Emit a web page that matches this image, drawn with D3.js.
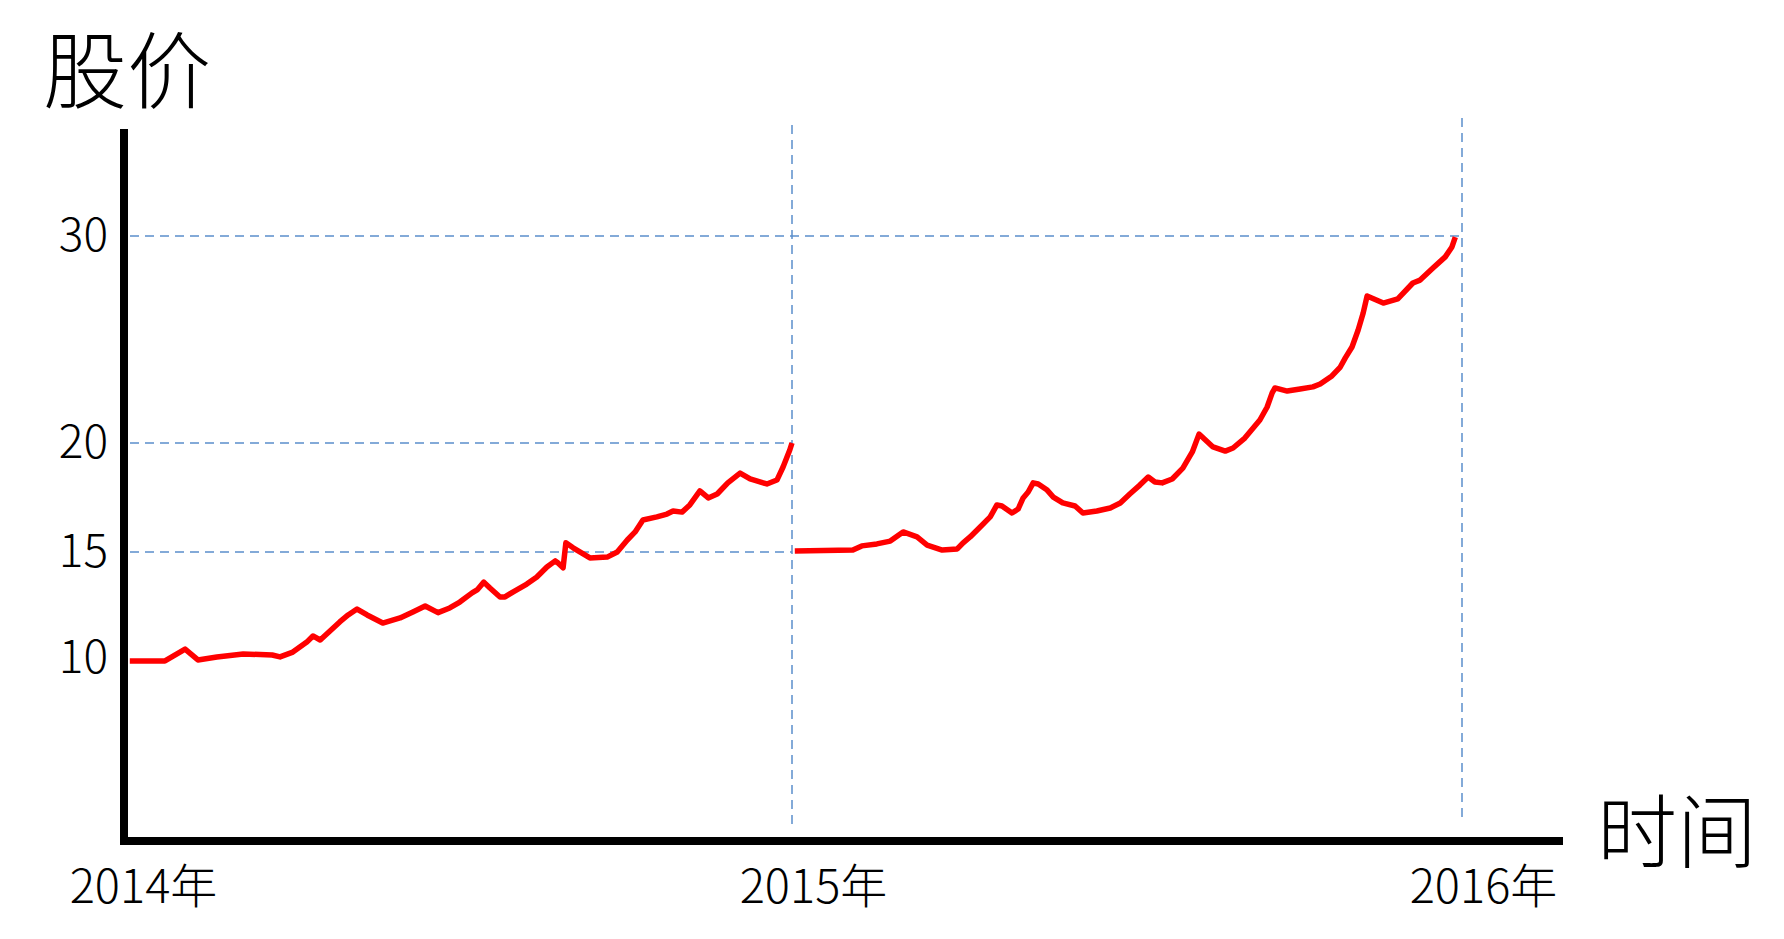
<!DOCTYPE html>
<html>
<head>
<meta charset="utf-8">
<script src="https://cdn.jsdelivr.net/npm/d3@7"></script>
<style>
  html, body { margin: 0; padding: 0; background: #ffffff; }
  svg { display: block; }
  text { font-family: "Noto Sans CJK SC", "Noto Sans", sans-serif; fill: #000; font-weight: 300; }
</style>
</head>
<body>
<svg id="chart" width="1784" height="939"></svg>
<script>
// ---- data (x in months since 2014-01, y = stock price) ----
const months2014 = [0.14, 0.77, 1.13, 1.36, 1.70, 2.17, 2.69, 2.83, 3.06, 3.31, 3.42, 3.55, 3.90, 4.05, 4.21, 4.39, 4.67, 4.98, 5.21, 5.43, 5.66, 5.87, 6.05, 6.27, 6.36, 6.48, 6.59, 6.77, 6.86, 7.00, 7.25, 7.43, 7.61, 7.76, 7.81, 7.90, 7.95, 8.08, 8.38, 8.69, 8.87, 9.05, 9.19, 9.33, 9.58, 9.76, 9.87, 10.03, 10.17, 10.35, 10.50, 10.66, 10.85, 11.07, 11.25, 11.55, 11.73, 11.84, 11.96, 12.0];
const prices2014 = [9.86, 9.86, 10.42, 9.91, 10.05, 10.19, 10.14, 10.05, 10.28, 10.75, 11.04, 10.85, 11.70, 12.03, 12.31, 12.03, 11.65, 11.89, 12.17, 12.45, 12.14, 12.36, 12.64, 13.07, 13.21, 13.58, 13.30, 12.88, 12.88, 13.11, 13.49, 13.82, 14.29, 14.58, 14.48, 14.25, 15.42, 15.19, 14.72, 14.76, 15.0, 15.55, 15.92, 16.47, 16.61, 16.74, 16.88, 16.83, 17.16, 17.80, 17.48, 17.66, 18.17, 18.62, 18.35, 18.12, 18.30, 18.90, 19.68, 20.0];

const months2015 = [12.05, 13.09, 13.25, 13.52, 13.76, 13.99, 14.24, 14.42, 14.69, 14.96, 15.06, 15.19, 15.37, 15.55, 15.67, 15.76, 15.94, 16.05, 16.14, 16.23, 16.32, 16.41, 16.57, 16.68, 16.85, 17.07, 17.21, 17.46, 17.70, 17.88, 18.05, 18.23, 18.38, 18.50, 18.63, 18.81, 19.00, 19.17, 19.29, 19.54, 19.76, 19.90, 20.11, 20.38, 20.51, 20.60, 20.65, 20.87, 21.10, 21.33, 21.46, 21.67, 21.82, 21.91, 22.03, 22.14, 22.23, 22.30, 22.59, 22.85, 23.12, 23.25, 23.48, 23.70, 23.82, 23.88];
const prices2015 = [15.05, 15.09, 15.28, 15.37, 15.50, 15.92, 15.69, 15.32, 15.09, 15.14, 15.41, 15.69, 16.15, 16.61, 17.16, 17.11, 16.79, 16.97, 17.48, 17.75, 18.17, 18.12, 17.84, 17.52, 17.25, 17.11, 16.79, 16.88, 17.02, 17.25, 17.66, 18.07, 18.44, 18.21, 18.17, 18.35, 18.85, 19.59, 20.43, 19.82, 19.63, 19.77, 20.24, 21.11, 21.74, 22.42, 22.66, 22.51, 22.61, 22.71, 22.85, 23.24, 23.67, 24.11, 24.64, 25.46, 26.28, 27.10, 26.76, 26.96, 27.73, 27.87, 28.45, 28.99, 29.47, 29.95];

const yTicks = [10, 15, 20, 30];
const xTicks = [0, 12, 24];
const xTickLabels = ["2014年", "2015年", "2016年"];
const hGuides = [30, 20, 15];
const hGuideEnds = [24, 12, 12];
const vGuides = [12, 24];
const yTitle = "股价";
const xTitle = "时间";

// ---- drawing ----
const svg = d3.select("#chart");
svg.append("rect").attr("width", 1784).attr("height", 939).attr("fill", "#fff");

const x = d3.scaleLinear().domain([0, 24]).range([122, 1462]);
const y = d3.scaleLinear().domain([10, 15, 20, 30]).range([658, 552, 443, 236]);

const axisX0 = 124, axisYBottom = 841, axisTop = 129, axisRight = 1563;
const guideColor = "#5B8FCB";

// horizontal guides
svg.append("g").selectAll("line").data(hGuides).join("line")
  .attr("x1", 130)
  .attr("x2", (d, i) => x(hGuideEnds[i]))
  .attr("y1", d => y(d)).attr("y2", d => y(d))
  .attr("stroke", guideColor).attr("stroke-width", 1.5)
  .attr("stroke-dasharray", "9,6");

// vertical guides
svg.append("g").selectAll("line").data(vGuides).join("line")
  .attr("x1", d => x(d)).attr("x2", d => x(d))
  .attr("y1", (d, i) => i === 0 ? 125 : 118)
  .attr("y2", (d, i) => i === 0 ? 828 : 822)
  .attr("stroke", guideColor).attr("stroke-width", 1.5)
  .attr("stroke-dasharray", "9,6");

// lines
const line = d3.line().x(d => x(d[0])).y(d => y(d[1])).curve(d3.curveLinear);
const seg1 = months2014.map((m, i) => [m, prices2014[i]]);
const seg2 = months2015.map((m, i) => [m, prices2015[i]]);
[seg1, seg2].forEach(seg => {
  svg.append("path").datum(seg).attr("d", line)
    .attr("fill", "none").attr("stroke", "#ff0000")
    .attr("stroke-width", 5.5).attr("stroke-linejoin", "round").attr("stroke-linecap", "butt");
});

// axes (thick black)
svg.append("line").attr("x1", axisX0).attr("x2", axisX0).attr("y1", axisTop).attr("y2", axisYBottom + 4)
  .attr("stroke", "#000").attr("stroke-width", 8);
svg.append("line").attr("x1", axisX0 - 4).attr("x2", axisRight).attr("y1", axisYBottom).attr("y2", axisYBottom)
  .attr("stroke", "#000").attr("stroke-width", 8);

// y tick labels via d3 axis
const yAxis = d3.axisLeft(y).tickValues(yTicks).tickSize(0).tickPadding(0).tickFormat(d3.format("d"));
const gy = svg.append("g").attr("transform", `translate(108,0)`).call(yAxis);
gy.select(".domain").remove();
gy.selectAll("text").attr("font-size", 46).attr("font-family", "'Noto Sans CJK SC', sans-serif")
  .attr("font-weight", 300).attr("fill", "#000").attr("dy", "0.32em");

// x tick labels via d3 axis
const xAxis = d3.axisBottom(x).tickValues(xTicks).tickSize(0).tickPadding(0)
  .tickFormat((d, i) => xTickLabels[i]);
const gx = svg.append("g").attr("transform", `translate(21,${axisYBottom})`).call(xAxis);
gx.select(".domain").remove();
gx.selectAll("text").attr("font-size", 47).attr("font-family", "'Noto Sans CJK SC', sans-serif")
  .attr("font-weight", 300).attr("fill", "#000").attr("dy", null).attr("y", 62);

// titles
svg.append("text").attr("x", 43).attr("y", 102).attr("font-size", 84).text(yTitle);
svg.append("text").attr("x", 1597).attr("y", 861).attr("font-size", 80).text(xTitle);
</script>
</body>
</html>
